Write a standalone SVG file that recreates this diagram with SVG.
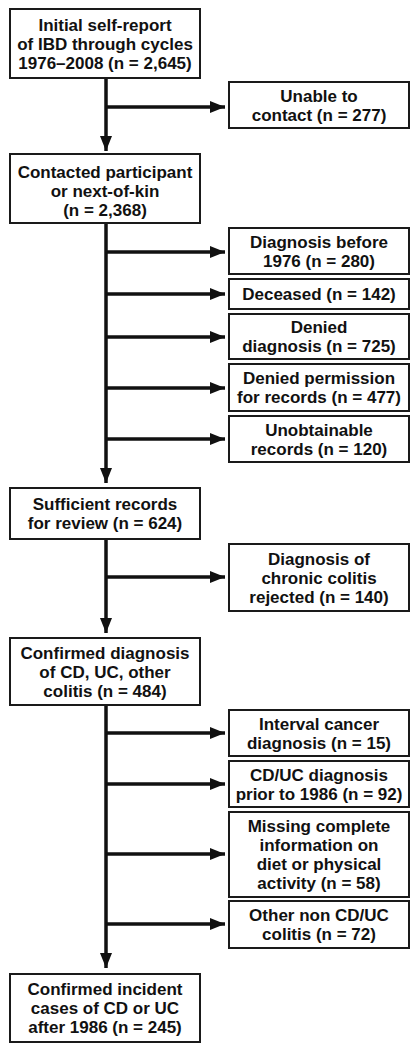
<svg xmlns="http://www.w3.org/2000/svg" width="418" height="1050" viewBox="0 0 418 1050">
<style>
.box{fill:#fff;stroke:#1a1a1a;stroke-width:2}
.t{font-family:"Liberation Sans",Arial,sans-serif;font-weight:bold;font-size:17px;fill:#111;text-anchor:middle}
.c{stroke:#111;stroke-width:3.5;fill:none}
</style>
<defs>
<marker id="ah" markerUnits="userSpaceOnUse" markerWidth="16" markerHeight="13" refX="15" refY="6.5" orient="auto">
<path d="M0,0.5 L15,6.5 L0,12.5 z" fill="#111"/>
</marker>
</defs>
<rect width="418" height="1050" fill="#fff"/>
<g id="connectors">
<line class="c" x1="106" y1="78" x2="106" y2="151" marker-end="url(#ah)"/>
<line class="c" x1="106" y1="107" x2="225" y2="107" marker-end="url(#ah)"/>
<line class="c" x1="106" y1="223" x2="106" y2="483" marker-end="url(#ah)"/>
<line class="c" x1="106" y1="252" x2="225" y2="252" marker-end="url(#ah)"/>
<line class="c" x1="106" y1="294" x2="225" y2="294" marker-end="url(#ah)"/>
<line class="c" x1="106" y1="337" x2="225" y2="337" marker-end="url(#ah)"/>
<line class="c" x1="106" y1="388" x2="225" y2="388" marker-end="url(#ah)"/>
<line class="c" x1="106" y1="439" x2="225" y2="439" marker-end="url(#ah)"/>
<line class="c" x1="106" y1="539" x2="106" y2="633" marker-end="url(#ah)"/>
<line class="c" x1="106" y1="577" x2="225" y2="577" marker-end="url(#ah)"/>
<line class="c" x1="106" y1="705" x2="106" y2="968" marker-end="url(#ah)"/>
<line class="c" x1="106" y1="733" x2="225" y2="733" marker-end="url(#ah)"/>
<line class="c" x1="106" y1="784" x2="225" y2="784" marker-end="url(#ah)"/>
<line class="c" x1="106" y1="854" x2="225" y2="854" marker-end="url(#ah)"/>
<line class="c" x1="106" y1="924" x2="225" y2="924" marker-end="url(#ah)"/>
</g>
<g id="n1"><rect class="box" x="10" y="9" width="190" height="69"/>
<text class="t" x="105" y="31">Initial self-report</text><text class="t" x="105" y="50">of IBD through cycles</text><text class="t" x="105" y="69">1976–2008 (n = 2,645)</text></g>
<g id="n2"><rect class="box" x="229" y="82" width="180" height="46"/>
<text class="t" x="319" y="101.5">Unable to</text><text class="t" x="319" y="120.5">contact (n = 277)</text></g>
<g id="n3"><rect class="box" x="10" y="154" width="190" height="69"/>
<text class="t" x="105" y="178">Contacted participant</text><text class="t" x="105" y="197">or next-of-kin</text><text class="t" x="105" y="216">(n = 2,368)</text></g>
<g id="n4"><rect class="box" x="229" y="228" width="180" height="46"/>
<text class="t" x="319" y="247.5">Diagnosis before</text><text class="t" x="319" y="266.5">1976 (n = 280)</text></g>
<g id="n5"><rect class="box" x="229" y="279" width="180" height="30"/>
<text class="t" x="319" y="300">Deceased (n = 142)</text></g>
<g id="n6"><rect class="box" x="229" y="314" width="180" height="45"/>
<text class="t" x="319" y="333">Denied</text><text class="t" x="319" y="352">diagnosis (n = 725)</text></g>
<g id="n7"><rect class="box" x="229" y="364" width="180" height="47"/>
<text class="t" x="319" y="384">Denied permission</text><text class="t" x="319" y="403">for records (n = 477)</text></g>
<g id="n8"><rect class="box" x="229" y="416" width="180" height="46"/>
<text class="t" x="319" y="435.5">Unobtainable</text><text class="t" x="319" y="454.5">records (n = 120)</text></g>
<g id="n9"><rect class="box" x="10" y="488" width="190" height="51"/>
<text class="t" x="105" y="510">Sufficient records</text><text class="t" x="105" y="529">for review (n = 624)</text></g>
<g id="n10"><rect class="box" x="229" y="544" width="180" height="67"/>
<text class="t" x="319" y="565">Diagnosis of</text><text class="t" x="319" y="584">chronic colitis</text><text class="t" x="319" y="603">rejected (n = 140)</text></g>
<g id="n11"><rect class="box" x="10" y="638" width="190" height="67"/>
<text class="t" x="105" y="659">Confirmed diagnosis</text><text class="t" x="105" y="678">of CD, UC, other</text><text class="t" x="105" y="697">colitis (n = 484)</text></g>
<g id="n12"><rect class="box" x="229" y="710" width="180" height="46"/>
<text class="t" x="319" y="729.5">Interval cancer</text><text class="t" x="319" y="748.5">diagnosis (n = 15)</text></g>
<g id="n13"><rect class="box" x="229" y="761" width="180" height="46"/>
<text class="t" x="319" y="780.5">CD/UC diagnosis</text><text class="t" x="319" y="799.5">prior to 1986 (n = 92)</text></g>
<g id="n14"><rect class="box" x="229" y="812" width="180" height="85"/>
<text class="t" x="319" y="832">Missing complete</text><text class="t" x="319" y="851">information on</text><text class="t" x="319" y="870">diet or physical</text><text class="t" x="319" y="889">activity (n = 58)</text></g>
<g id="n15"><rect class="box" x="229" y="901" width="180" height="47"/>
<text class="t" x="319" y="921">Other non CD/UC</text><text class="t" x="319" y="940">colitis (n = 72)</text></g>
<g id="n16"><rect class="box" x="10" y="974" width="190" height="68"/>
<text class="t" x="105" y="995">Confirmed incident</text><text class="t" x="105" y="1014">cases of CD or UC</text><text class="t" x="105" y="1033">after 1986 (n = 245)</text></g>
</svg>
